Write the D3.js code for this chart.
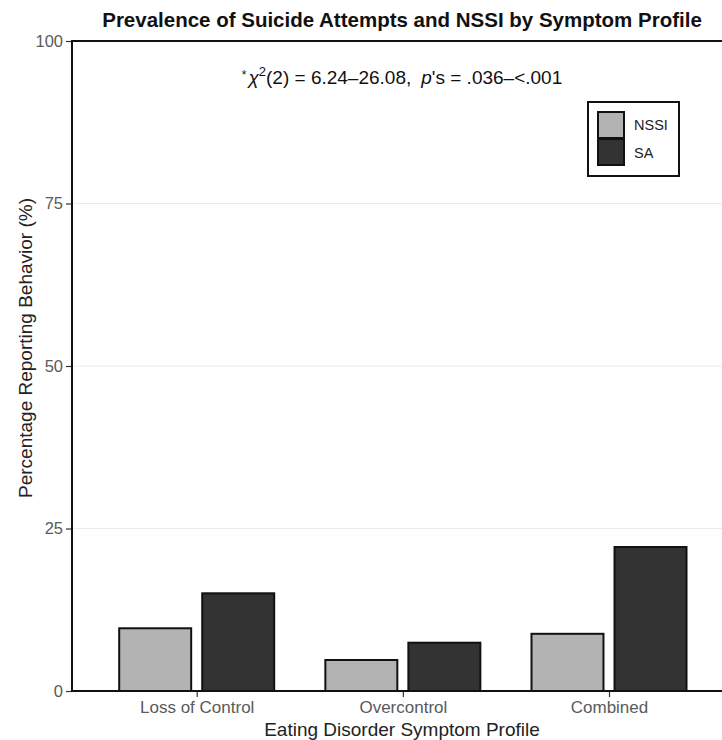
<!DOCTYPE html>
<html>
<head>
<meta charset="utf-8">
<script src="https://cdn.jsdelivr.net/npm/d3@7"></script>
<style>
html,body{margin:0;padding:0;background:#fff;}
svg{display:block;}
text{font-family:"Liberation Sans",Arial,sans-serif;}
</style>
</head>
<body>
<svg id="chart" width="722" height="740"></svg>
<script>
const categories = ["Loss of Control", "Overcontrol", "Combined"];
const series = ["NSSI", "SA"];
const nssiValues = [9.65, 4.77, 8.8];
const saValues = [15.03, 7.43, 22.15];
const yTicks = [0, 25, 50, 75, 100];
const seriesColors = ["#b3b3b3", "#333333"];

(function () {
const svg = d3.select("#chart");
const mLeft = 72, mTop = 41, mBottom = 691;

const y = d3.scaleLinear().domain([0, 100]).range([mBottom, mTop]);
const x = d3.scalePoint().domain(categories).range([196.7, 609]);
const step = x.step();
const panelRight = x(categories[0]) - 0.6 * step + 3.2 * step;
const x1 = d3.scaleBand().domain(series).range([-77.5, 77.5]).paddingInner(0.133);
const color = d3.scaleOrdinal().domain(series).range(seriesColors);

// gridlines
svg.append("g").selectAll("line").data(yTicks.filter(t => t > 0 && t < 100)).join("line")
  .attr("x1", mLeft).attr("x2", panelRight)
  .attr("y1", d => y(d)).attr("y2", d => y(d))
  .attr("stroke", "#ebebeb").attr("stroke-width", 1.2);

// bars
const data = [];
categories.forEach((c, i) => {
  data.push({cat: c, s: "NSSI", v: nssiValues[i]});
  data.push({cat: c, s: "SA", v: saValues[i]});
});
svg.append("g").selectAll("rect").data(data).join("rect")
  .attr("x", d => x(d.cat) + x1(d.s))
  .attr("width", x1.bandwidth())
  .attr("y", d => y(d.v))
  .attr("height", d => y(0) - y(d.v))
  .attr("fill", d => color(d.s))
  .attr("stroke", "#111")
  .attr("stroke-width", 2);

// axes
const yAxis = d3.axisLeft(y).tickValues(yTicks).tickSize(6).tickPadding(3);
const gy = svg.append("g").attr("transform", `translate(${mLeft},0)`).call(yAxis);
gy.select(".domain").remove();
gy.selectAll(".tick line").attr("stroke", "#333").attr("stroke-width", 1.2);
gy.selectAll(".tick text").attr("fill", "#5a5a5a").style("font-size", "16.5px")
  .style("font-family", '"Liberation Sans",Arial,sans-serif');

const xAxis = d3.axisBottom(x).tickSize(6).tickPadding(4);
const gx = svg.append("g").attr("transform", `translate(0,${mBottom})`).call(xAxis);
gx.select(".domain").remove();
gx.selectAll(".tick line").attr("stroke", "#333").attr("stroke-width", 1.2);
gx.selectAll(".tick text").attr("fill", "#5a5a5a").style("font-size", "17px")
  .style("font-family", '"Liberation Sans",Arial,sans-serif');

// panel border lines (top, left, bottom)
svg.append("line").attr("x1", mLeft).attr("x2", panelRight).attr("y1", mTop).attr("y2", mTop)
  .attr("stroke", "#111").attr("stroke-width", 2);
svg.append("line").attr("x1", mLeft).attr("x2", panelRight).attr("y1", mBottom).attr("y2", mBottom)
  .attr("stroke", "#111").attr("stroke-width", 2);
svg.append("line").attr("x1", mLeft).attr("x2", mLeft).attr("y1", mTop - 1).attr("y2", mBottom + 1)
  .attr("stroke", "#111").attr("stroke-width", 2);

// title
svg.append("text").attr("x", 402).attr("y", 27).attr("text-anchor", "middle")
  .style("font-size", "20.5px").style("font-weight", "bold").attr("fill", "#111")
  .text("Prevalence of Suicide Attempts and NSSI by Symptom Profile");

// annotation
const ann = svg.append("text").attr("x", 402).attr("y", 84).attr("text-anchor", "middle")
  .style("font-size", "19px").attr("fill", "#111");
ann.append("tspan").attr("dy", -5).style("font-size", "12px").text("*");
ann.append("tspan").attr("dy", 5).attr("dx", 2).style("font-style", "italic").text("χ");
ann.append("tspan").attr("dy", -8).style("font-size", "13px").text("2");
ann.append("tspan").attr("dy", 8).text("(2) = 6.24–26.08,");
ann.append("tspan").attr("dx", 10).style("font-style", "italic").text("p");
ann.append("tspan").text("'s = .036–<.001");

// legend
const lg = svg.append("g");
lg.append("rect").attr("x", 588).attr("y", 102).attr("width", 91).attr("height", 74)
  .attr("fill", "#fff").attr("stroke", "#111").attr("stroke-width", 2);
series.forEach((s, i) => {
  lg.append("rect").attr("x", 598).attr("y", 112 + i * 27).attr("width", 26).attr("height", 26)
    .attr("fill", color(s)).attr("stroke", "#111").attr("stroke-width", 2);
  lg.append("text").attr("x", 634).attr("y", 129.5 + i * 28).style("font-size", "14.5px")
    .attr("fill", "#222").text(s);
});

// axis titles
svg.append("text").attr("transform", `translate(32,348) rotate(-90)`).attr("text-anchor", "middle")
  .style("font-size", "19px").attr("fill", "#222").text("Percentage Reporting Behavior (%)");
svg.append("text").attr("x", 402).attr("y", 736).attr("text-anchor", "middle")
  .style("font-size", "19px").attr("fill", "#222").text("Eating Disorder Symptom Profile");
})();
</script>
</body>
</html>
